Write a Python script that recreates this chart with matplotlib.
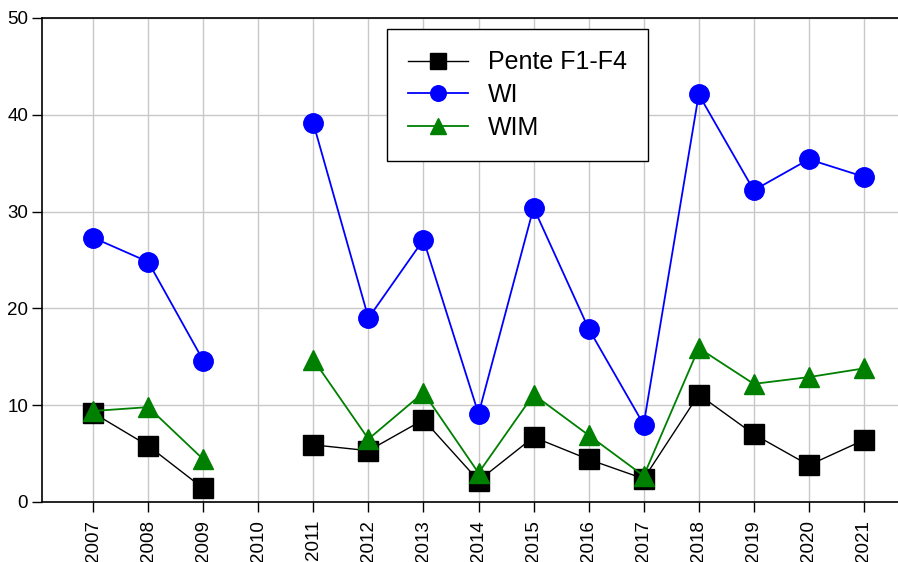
import numpy as np
import matplotlib
matplotlib.use("Agg")
import matplotlib.pyplot as plt

plt.rcParams['font.family'] = ['Liberation Sans', 'DejaVu Sans']

years = list(range(2007, 2022))
pente = [9.2, 5.8, 1.4, np.nan, 5.9, 5.3, 8.5, 2.2, 6.7, 4.4, 2.4, 11.1, 7.0, 3.8, 6.4]
wi = [27.3, 24.8, 14.6, np.nan, 39.1, 19.0, 27.1, 9.1, 30.4, 17.9, 8.0, 42.1, 32.2, 35.4, 33.6]
wim = [9.4, 9.8, 4.4, np.nan, 14.7, 6.5, 11.3, 3.0, 11.1, 6.9, 2.7, 15.9, 12.2, 12.9, 13.8]

fig = plt.figure(figsize=(8.98, 5.62), dpi=100)
ax = fig.add_axes([0.0468, 0.1068, 1 - 0.0468, 0.968 - 0.1068])

ax.plot(years, pente, color='black', lw=1.0, marker='s', ms=15, label='Pente F1-F4', zorder=3)
ax.plot(years, wi, color='blue', lw=1.3, marker='o', ms=14, label='WI', zorder=3)
ax.plot(years, wim, color='green', lw=1.3, marker='^', ms=14, label='WIM', zorder=3)

ax.set_xlim(2006.07, 2021.62)
ax.set_ylim(0, 50)
ax.set_xticks(years)
ax.set_xticklabels([str(y) for y in years], rotation=90)
ax.set_yticks([0, 10, 20, 30, 40, 50])
ax.tick_params(labelsize=13.5, length=7, width=1, direction='out')
ax.tick_params(axis='x', pad=6)
ax.tick_params(axis='y', pad=3)
ax.grid(True, color='#c8c8c8', lw=1)
ax.set_axisbelow(True)
ax.spines['right'].set_visible(False)
for s in ['left', 'bottom', 'top']:
    ax.spines[s].set_linewidth(1.2)

leg = ax.legend(loc='upper left', bbox_to_anchor=(0.403, 0.977), borderaxespad=0,
                fontsize=18, frameon=True, fancybox=False, edgecolor='black',
                framealpha=1, handlelength=2.4, borderpad=0.85, labelspacing=0.35,
                markerscale=0.8, handletextpad=0.8)
leg.get_frame().set_linewidth(1.0)

fig.savefig('out.png', dpi=100)
